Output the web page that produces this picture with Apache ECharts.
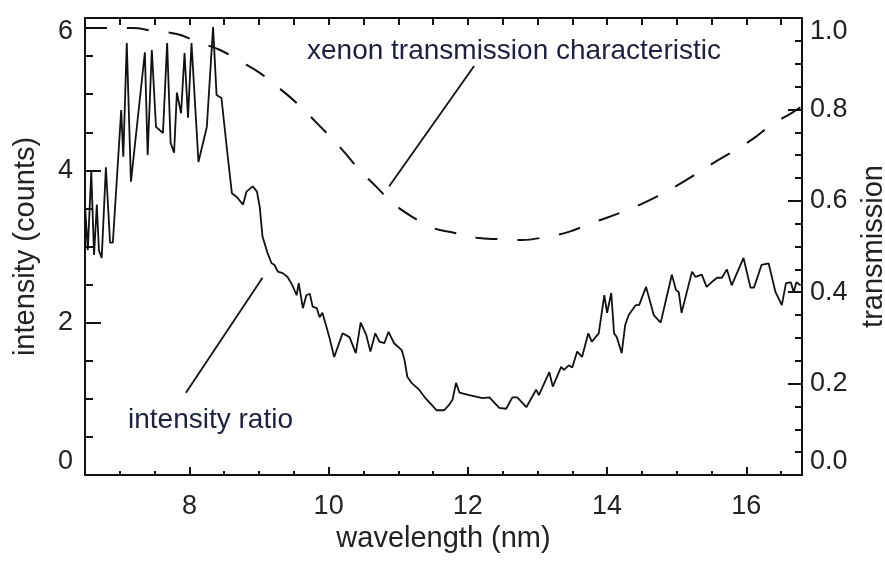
<!DOCTYPE html>
<html>
<head>
<meta charset="utf-8">
<script src="https://cdn.jsdelivr.net/npm/echarts@6/dist/echarts.min.js"></script>
<style>
  html, body { margin: 0; padding: 0; background: #fff; }
  #chart { width: 885px; height: 561px; }
</style>
</head>
<body>
<div id="chart"></div>
<script>
// Measured intensity ratio versus wavelength (nm)
const wavelength = [
  6.50,6.54,6.59,6.63,6.67,6.70,6.74,6.80,6.86,6.90,
  7.02,7.05,7.10,7.16,7.36,7.40,7.46,7.52,7.62,7.68,
  7.73,7.78,7.82,7.88,7.93,7.98,8.03,8.13,8.25,8.34,
  8.39,8.46,8.54,8.61,8.68,8.77,8.82,8.91,8.97,9.01,
  9.05,9.12,9.18,9.22,9.27,9.34,9.41,9.48,9.54,9.57,
  9.63,9.68,9.73,9.77,9.83,9.87,9.91,9.97,10.01,10.08,
  10.20,10.30,10.39,10.46,10.54,10.60,10.67,10.73,10.80,10.86,
  10.94,11.05,11.09,11.13,11.19,11.30,11.38,11.48,11.55,11.66,
  11.73,11.78,11.83,11.88,12.02,12.21,12.31,12.45,12.55,12.64,
  12.71,12.84,12.98,13.02,13.17,13.22,13.34,13.38,13.45,13.50,
  13.57,13.64,13.73,13.78,13.88,13.96,14.00,14.06,14.10,14.14,
  14.21,14.26,14.31,14.41,14.46,14.56,14.67,14.77,14.93,14.99,
  15.03,15.07,15.22,15.27,15.36,15.43,15.50,15.58,15.65,15.72,
  15.79,15.96,16.06,16.11,16.22,16.32,16.42,16.51,16.57,16.64,
  16.68,16.72,16.78
];
const intensity = [
  3.55,2.95,3.98,2.89,3.55,2.95,2.85,4.04,3.05,3.05,
  4.79,4.18,5.67,3.85,5.55,4.20,5.58,4.57,4.49,5.67,
  4.36,4.23,5.02,4.75,5.54,4.69,5.67,4.11,4.57,5.88,
  4.99,4.95,4.27,3.70,3.65,3.55,3.72,3.79,3.72,3.52,
  3.13,2.92,2.78,2.76,2.67,2.65,2.60,2.49,2.36,2.52,
  2.19,2.36,2.38,2.21,2.19,2.07,2.13,1.94,1.81,1.55,
  1.86,1.81,1.60,2.00,1.84,1.62,1.86,1.75,1.73,1.88,
  1.73,1.64,1.51,1.29,1.21,1.12,1.02,0.92,0.85,0.85,
  0.92,0.99,1.21,1.08,1.05,1.01,1.02,0.88,0.87,1.02,
  1.02,0.89,1.12,1.05,1.35,1.16,1.42,1.38,1.44,1.41,
  1.62,1.55,1.86,1.75,1.86,2.36,2.13,2.39,1.86,1.81,
  1.60,1.97,2.10,2.23,2.23,2.47,2.10,2.00,2.63,2.43,
  2.40,2.13,2.67,2.60,2.63,2.47,2.53,2.59,2.59,2.70,
  2.49,2.85,2.46,2.46,2.76,2.78,2.40,2.23,2.52,2.53,
  2.40,2.53,2.49
];

// Xenon transmission characteristic (right axis)
const transWavelength = [
  6.50,6.83,7.19,7.47,7.82,8.13,8.44,8.72,9.01,9.27,
  9.54,9.87,10.20,10.44,10.69,10.92,11.20,11.49,11.80,12.13,
  12.45,12.78,13.12,13.45,13.74,14.07,14.36,14.67,14.99,15.25,
  15.53,15.82,16.11,16.36,16.65,16.78
];
const transmission = [
  0.978,0.978,0.978,0.972,0.965,0.947,0.930,0.906,0.880,0.849,
  0.814,0.764,0.711,0.668,0.630,0.595,0.565,0.541,0.530,0.519,
  0.516,0.514,0.521,0.532,0.549,0.567,0.584,0.606,0.632,0.656,
  0.683,0.709,0.737,0.766,0.792,0.805
];

// Tick values
const xMajorTicks = [8, 10, 12, 14, 16];
const xAllTicks = [6.5,7,7.5,8,8.5,9,9.5,10,10.5,11,11.5,12,12.5,13,13.5,14,14.5,15,15.5,16,16.5];
const xMinorTicks = xAllTicks.filter(v => xMajorTicks.indexOf(v) < 0);

// Leader lines for the two annotations (wavelength, value)
const leaderIntensityX = [7.95, 9.05];
const leaderIntensityY = [1.08, 2.59];
const leaderXenonX = [12.09, 10.87];
const leaderXenonY = [0.895, 0.632];

const zip = (a, b) => a.map((v, i) => [v, b[i]]);

const INK = '#111';
const TICK_FONT = 'Liberation Sans';
const xRange = { min: 6.5, max: 16.8 };

const chart = echarts.init(document.getElementById('chart'), null, { renderer: 'canvas' });

const baseX = {
  type: 'value', min: xRange.min, max: xRange.max,
  splitLine: { show: false },
  axisLine: { show: false }
};

chart.setOption({
  animation: false,
  backgroundColor: '#fff',
  grid: { left: 85, right: 83, top: 18, bottom: 86, containLabel: false, outerBoundsMode: 'none' },
  xAxis: [
    Object.assign({}, baseX, {
      position: 'bottom',
      axisLine: { show: true, lineStyle: { color: INK, width: 2 } },
      axisTick: { show: true, inside: true, length: 8, customValues: xMajorTicks,
                  lineStyle: { color: INK, width: 2 } },
      axisLabel: { show: true, customValues: xMajorTicks, margin: 18,
                   fontFamily: TICK_FONT, fontSize: 27, color: '#222' },
      name: 'wavelength (nm)', nameLocation: 'middle', nameGap: 44,
      nameTextStyle: { fontFamily: TICK_FONT, fontSize: 29, color: '#222' }
    }),
    Object.assign({}, baseX, {
      position: 'bottom',
      axisTick: { show: true, inside: true, length: 4, customValues: xMinorTicks,
                  lineStyle: { color: INK, width: 2 } },
      axisLabel: { show: false }
    }),
    Object.assign({}, baseX, {
      position: 'top',
      axisLine: { show: true, lineStyle: { color: INK, width: 2 } },
      axisTick: { show: true, inside: true, length: 7, customValues: xAllTicks,
                  lineStyle: { color: INK, width: 2 } },
      axisLabel: { show: false }
    })
  ],
  yAxis: [
    {
      type: 'value', position: 'left', min: 0, max: 6, interval: 2,
      splitLine: { show: false },
      axisLine: { show: true, lineStyle: { color: INK, width: 2 } },
      axisTick: { show: true, inside: true, length: 16, lineStyle: { color: INK, width: 2 } },
      minorTick: { show: true, splitNumber: 4, length: 8, lineStyle: { color: INK, width: 2 } },
      minorSplitLine: { show: false },
      axisLabel: { margin: 12, fontFamily: TICK_FONT, fontSize: 27, color: '#222',
                   verticalAlignMaxLabel: 'top', verticalAlignMinLabel: 'bottom' },
      name: 'intensity (counts)', nameLocation: 'middle', nameGap: 45, nameRotate: 90,
      nameTextStyle: { fontFamily: TICK_FONT, fontSize: 29, color: '#222' }
    },
    {
      type: 'value', position: 'right', min: 0, max: 1, interval: 0.2,
      splitLine: { show: false },
      axisLine: { show: true, lineStyle: { color: INK, width: 2 } },
      axisTick: { show: true, inside: true, length: 14, lineStyle: { color: INK, width: 2 } },
      minorTick: { show: true, splitNumber: 4, length: 7, lineStyle: { color: INK, width: 2 } },
      minorSplitLine: { show: false },
      axisLabel: { margin: 8, fontFamily: TICK_FONT, fontSize: 27, color: '#222',
                   formatter: v => v.toFixed(1),
                   verticalAlignMaxLabel: 'top', verticalAlignMinLabel: 'bottom' },
      name: 'transmission', nameLocation: 'middle', nameGap: 57, nameRotate: 90,
      nameTextStyle: { fontFamily: TICK_FONT, fontSize: 29, color: '#222' }
    }
  ],
  series: [
    {
      name: 'intensity ratio', type: 'line', xAxisIndex: 0, yAxisIndex: 0,
      data: zip(wavelength, intensity), showSymbol: false, symbol: 'none',
      lineStyle: { color: INK, width: 1.8 }, z: 3
    },
    {
      name: 'xenon transmission characteristic', type: 'line', xAxisIndex: 0, yAxisIndex: 1,
      data: zip(transWavelength, transmission), showSymbol: false, symbol: 'none', smooth: 0.4,
      lineStyle: { color: INK, width: 2, type: [22, 20] }, z: 3
    },
    {
      type: 'line', xAxisIndex: 0, yAxisIndex: 0, data: zip(leaderIntensityX, leaderIntensityY),
      showSymbol: false, symbol: 'none', lineStyle: { color: INK, width: 1.8 }, silent: true
    },
    {
      type: 'line', xAxisIndex: 0, yAxisIndex: 1, data: zip(leaderXenonX, leaderXenonY),
      showSymbol: false, symbol: 'none', lineStyle: { color: INK, width: 1.8 }, silent: true
    }
  ],
  graphic: [
    { type: 'text', left: 307, top: 37,
      style: { text: 'xenon transmission characteristic', font: '28px "Liberation Sans"', fill: '#1b2140' } },
    { type: 'text', left: 128, top: 406,
      style: { text: 'intensity ratio', font: '28px "Liberation Sans"', fill: '#1b2140' } }
  ]
});
</script>
</body>
</html>
